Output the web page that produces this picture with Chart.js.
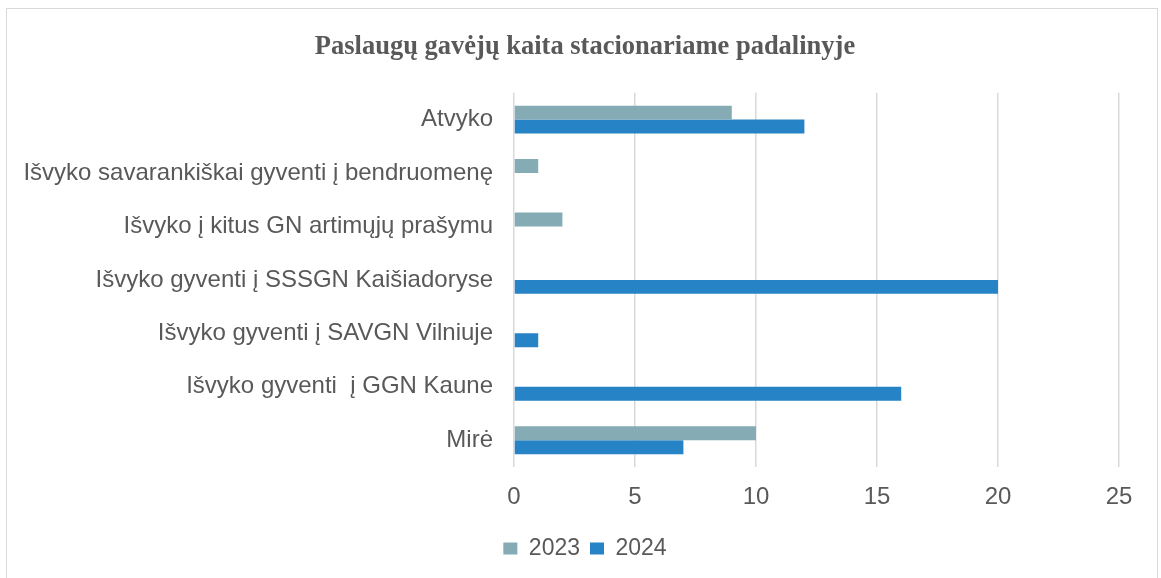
<!DOCTYPE html>
<html>
<head>
<meta charset="utf-8">
<script src="https://cdn.jsdelivr.net/npm/chart.js@4.4.1/dist/chart.umd.min.js"></script>
<style>
  html, body { margin: 0; padding: 0; background: #ffffff; overflow: hidden; }
  #wrap { position: relative; width: 1161px; height: 578px; }
  #frame { position: absolute; left: 6px; top: 8px; width: 1152px; height: 600px; border: 1.5px solid #d9d9d9; box-sizing: border-box; }
  canvas { position: absolute; left: 0; top: 0; }
</style>
</head>
<body>
<div id="wrap">
  <div id="frame"></div>
  <canvas id="c" width="1161" height="578"></canvas>
</div>
<script>
const categories = [
  "Atvyko",
  "Išvyko savarankiškai gyventi į bendruomenę",
  "Išvyko į kitus GN artimųjų prašymu",
  "Išvyko gyventi į SSSGN Kaišiadoryse",
  "Išvyko gyventi į SAVGN Vilniuje",
  "Išvyko gyventi  į GGN Kaune",
  "Mirė"
];
const values2023 = [9, 1, 2, 0, 0, 0, 10];
const values2024 = [12, 0, 0, 20, 1, 16, 7];
const xTicks = [0, 5, 10, 15, 20, 25];
const titleText = "Paslaugų gavėjų kaita stacionariame padalinyje";

new Chart(document.getElementById('c'), {
  type: 'bar',
  data: {
    labels: categories,
    datasets: [
      { label: '2023', data: values2023, backgroundColor: '#85abb5', borderWidth: 0 },
      { label: '2024', data: values2024, backgroundColor: '#2683c6', borderWidth: 0 }
    ]
  },
  options: {
    indexAxis: 'y',
    responsive: false,
    animation: false,
    devicePixelRatio: 1,
    datasets: { bar: { barPercentage: 1.0, categoryPercentage: 0.52 } },
    layout: { padding: { left: 9, right: 0, top: 0, bottom: 8 } },
    scales: {
      x: {
        min: 0, max: 25,
        afterBuildTicks: (s) => { s.ticks = xTicks.map(v => ({ value: v })); },
        afterFit: (s) => { s.height = 60; },
        grid: { color: '#d9d9d9', lineWidth: 1.5, drawTicks: false },
        border: { display: false },
        ticks: { color: '#595959', font: { family: 'Liberation Sans', size: 24 }, padding: 16 }
      },
      y: {
        afterFit: (s) => { s.width = 505; },
        grid: { display: false },
        border: { display: false },
        ticks: { color: '#595959', font: { family: 'Liberation Sans', size: 24 }, padding: 13 }
      },
      yRight: {
        type: 'linear',
        position: 'right',
        display: true,
        afterFit: (s) => { s.width = 42; },
        grid: { display: false },
        border: { display: false },
        ticks: { display: false }
      }
    },
    plugins: {
      title: {
        display: true, text: titleText, color: '#595959',
        font: { family: 'Liberation Serif', size: 26.5, weight: 'bold' },
        padding: { top: 31, bottom: 30 }
      },
      legend: {
        position: 'bottom',
        labels: { color: '#595959', font: { family: 'Liberation Sans', size: 23 }, boxWidth: 14, boxHeight: 12, padding: 10 }
      },
      tooltip: { enabled: false }
    }
  }
});
</script>
</body>
</html>
